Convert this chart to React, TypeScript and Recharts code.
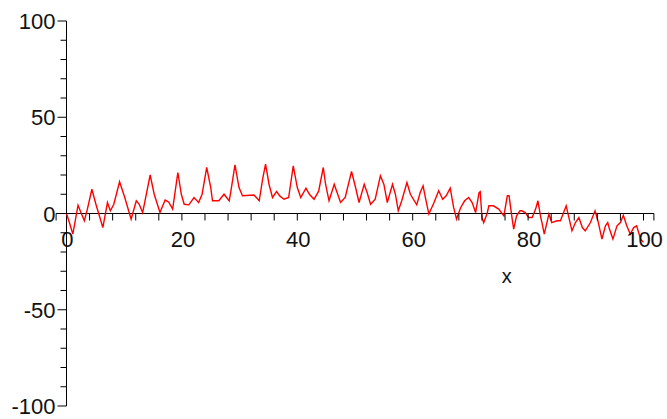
import { LineChart, Line, XAxis, YAxis, ReferenceLine, ReferenceDot } from 'recharts';

const xValues = [
  0, 0.5, 1.1, 2.0, 2.5, 3.1, 3.6, 4.4, 5.1, 6.3, 7.1, 7.6, 8.2, 9.2, 10.1, 11.2, 12.1, 12.6, 13.2, 14.5,
  15.2, 16.2, 17.1, 17.7, 18.4, 19.3, 19.9, 20.4, 21.2, 22.1, 22.9, 23.5, 24.3, 25.0, 25.3, 26.4, 27.3, 28.2, 28.5, 29.2,
  29.9, 30.5, 32.5, 33.4, 34.0, 34.5, 35.1, 35.7, 36.4, 37.0, 37.7, 38.5, 39.3, 40.0, 40.6, 41.5, 42.1, 42.9, 43.7, 44.5,
  44.9, 45.5, 46.4, 47.0, 47.5, 48.3, 49.4, 50.1, 50.7, 51.6, 52.1, 52.7, 53.5, 54.4, 55.0, 55.6, 56.5, 57.0, 57.5, 58.1,
  59.0, 59.6, 60.7, 61.3, 61.8, 62.2, 62.8, 63.7, 64.5, 65.2, 65.8, 66.5, 67.1, 67.6, 68.3, 69.0, 69.7, 70.3, 70.9, 71.5,
  71.7, 72.0, 72.3, 72.9, 73.2, 74.0, 74.9, 75.8, 76.4, 76.7, 77.2, 77.5, 78.0, 78.6, 78.9, 79.5, 80.1, 80.7, 81.3, 81.7,
  82.2, 82.4, 82.8, 83.6, 84.1, 85.0, 85.6, 86.6, 87.0, 87.6, 88.2, 88.8, 89.4, 89.9, 90.8, 91.6, 92.1, 92.8, 93.4, 93.8,
  94.1, 94.7, 95.4, 96.0, 96.5, 97.1, 97.7, 98.3, 98.8, 99.5, 100,
];
const yValues = [
  0, -4.7, -10.7, 4.3, 0.5, -3.8, 2, 12.6, 4.8, -7.3, 5.7, 1.4, 4.8, 16.5, 8.3, -3, 6.6, 4.8, 0.5, 20,
  10, 0.5, 7, 6, 2.3, 21.3, 10, 4.8, 4.5, 8.3, 5.7, 10, 23.9, 13.5, 6.6, 6.6, 10, 6.6, 11.8, 25.3,
  13.5, 9.2, 9.6, 6.6, 18, 25.6, 15.2, 8.3, 11.4, 9, 7.4, 8.3, 24.8, 13.5, 8.3, 13.2, 10, 7.4, 11.6, 23.9,
  15.2, 6.6, 15.2, 10, 5.7, 8.3, 21.8, 13.5, 5.7, 15.2, 10.9, 4.8, 7.4, 19.6, 15.2, 5.7, 15.2, 10, 1.4, 6.6,
  16.1, 10, 4.5, 10.9, 14.4, 8.3, -0.3, 5.7, 11.8, 7.4, 9.2, 13.2, 3, -2.9, 3, 6.6, 8.3, 5.7, 0.5, 10.9,
  11.4, -2, -4.7, 0, 4, 4, 2.3, -1.2, 9.2, 9.2, -2, -8.1, -1.2, 1.4, 1.4, 0.5, -2.1, -2.1, 2.3, 6.6,
  -2.1, -4.7, -10.7, -0.3, -4.7, -3.8, -3.8, 4, -1.2, -9, -4.7, -2.1, -7.3, -9, -4.7, 1.4, -3.8, -13.3, -6.4, -4.7,
  -8.1, -13.3, -6.4, -4.7, -0.9, -6.4, -10.7, -7.3, -6.4, -13.3, -15,
];

const xMinorTicks = [-1.8, 4, 8, 12, 16, 24, 28, 32, 36, 44, 48, 52, 56, 64, 68, 72, 76, 84, 88, 92, 96, 101.8];
const xTickLabels = [0, 20, 40, 60, 80, 100];
const yMinorTicks = [-90, -80, -70, -60, -40, -30, -20, -10, 10, 20, 30, 40, 60, 70, 80, 90];
const yTickLabels = [-100, -50, 0, 50, 100];

const data = xValues.map((x, i) => ({ x, y: yValues[i] }));

const FONT = '"Liberation Sans", Arial, sans-serif';

function XTick({ cx, cy, text }: { cx?: number; cy?: number; text?: string }) {
  if (cx == null || cy == null) return null;
  return (
    <g>
      {text !== '0' && <line x1={cx} y1={cy} x2={cx} y2={cy + 7} stroke="#000" />}
      {text != null && (
        <text x={cx + 1} y={cy + 33} textAnchor="middle" fontFamily={FONT} fontSize={22} fill="#111">
          {text}
        </text>
      )}
    </g>
  );
}

function YTick({ cx, cy, text }: { cx?: number; cy?: number; text?: string }) {
  if (cx == null || cy == null) return null;
  const len = text != null ? 9 : 6;
  return (
    <g>
      <line x1={cx - len} y1={cy} x2={cx} y2={cy} stroke="#000" />
      {text != null && (
        <text x={cx - 11} y={cy + 8} textAnchor="end" fontFamily={FONT} fontSize={22} fill="#111">
          {text}
        </text>
      )}
    </g>
  );
}

export default function App() {
  return (
    <div style={{ position: 'absolute', left: 0, top: 0, background: '#fff' }}>
      <LineChart
        width={667}
        height={419}
        data={data}
        margin={{ top: 21, right: 13.1, bottom: 13, left: 56.1 }}
      >
        <XAxis dataKey="x" type="number" domain={[-1.8, 101.8]} hide />
        <YAxis type="number" domain={[-100, 100]} hide />
        <ReferenceLine y={0} stroke="#000" strokeWidth={1} />
        <ReferenceLine x={0} stroke="#000" strokeWidth={1} />
        {xMinorTicks.map((t) => (
          <ReferenceDot key={'xm' + t} x={t} y={0} r={0} shape={(p: any) => <XTick cx={p.cx} cy={p.cy} />} />
        ))}
        {xTickLabels.map((t) => (
          <ReferenceDot
            key={'xl' + t}
            x={t}
            y={0}
            r={0}
            shape={(p: any) => <XTick cx={p.cx} cy={p.cy} text={String(t)} />}
          />
        ))}
        {yMinorTicks.map((t) => (
          <ReferenceDot key={'ym' + t} x={0} y={t} r={0} shape={(p: any) => <YTick cx={p.cx} cy={p.cy} />} />
        ))}
        {yTickLabels.map((t) => (
          <ReferenceDot
            key={'yl' + t}
            x={0}
            y={t}
            r={0}
            shape={(p: any) => <YTick cx={p.cx} cy={p.cy} text={String(t)} />}
          />
        ))}
        <ReferenceDot
          x={76.3}
          y={-33}
          r={0}
          shape={(p: any) => (
            <text x={p.cx} y={p.cy + 6} textAnchor="middle" fontFamily={FONT} fontSize={20} fill="#111">
              x
            </text>
          )}
        />
        <Line
          type="linear"
          dataKey="y"
          stroke="#ff0000"
          strokeWidth={1.4}
          dot={false}
          isAnimationActive={false}
        />
      </LineChart>
    </div>
  );
}
